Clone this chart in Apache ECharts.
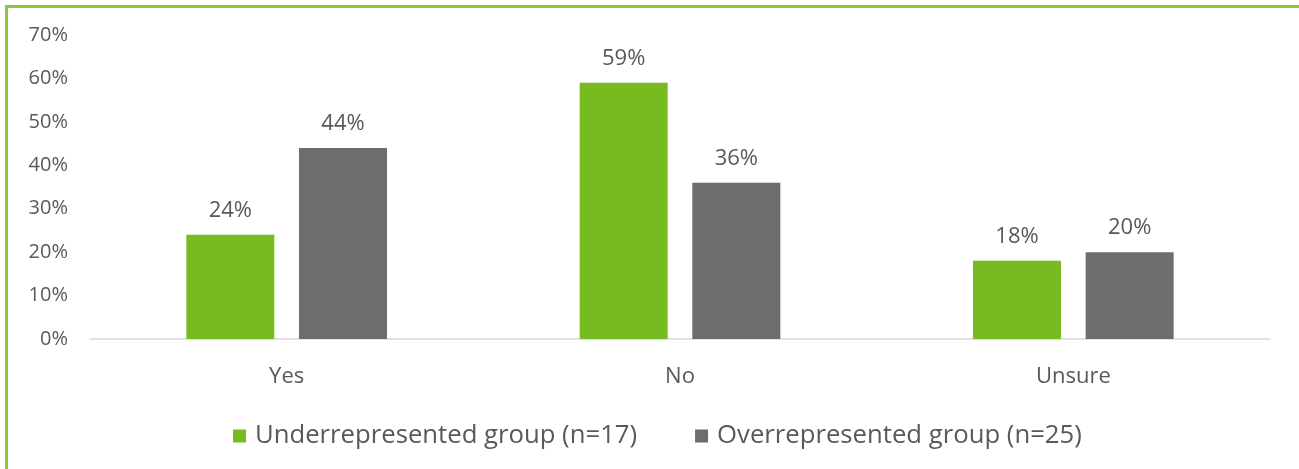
<!DOCTYPE html>
<html>
<head>
<meta charset="utf-8">
<script src="https://cdn.jsdelivr.net/npm/echarts@6/dist/echarts.min.js"></script>
<style>
  html, body { margin: 0; padding: 0; background: #fff; }
  #frame { position: absolute; left: 5px; top: 5px; width: 1294px; height: 464px;
           border-top: 3px solid #8cc63e; border-left: 3px solid #8cc63e; box-sizing: border-box; }
  #chart { position: absolute; left: 0; top: 0; width: 1299px; height: 469px; }
</style>
</head>
<body>
<div id="frame"></div>
<div id="chart"></div>
<script>
// Survey answers by group, in percent
const categories = ['Yes', 'No', 'Unsure'];
const underrepresented = [24, 59, 18];
const overrepresented = [44, 36, 20];
const seriesNames = ['Underrepresented group (n=17)', 'Overrepresented group (n=25)'];
const yTicks = [0, 10, 20, 30, 40, 50, 60, 70];

const FONT = '"Open Sans", sans-serif';
const TEXT = '#595959';

const chart = echarts.init(document.getElementById('chart'), null, { renderer: 'canvas' });

const label = {
  show: true, position: 'top', distance: 13,
  formatter: p => p.value + '%',
  color: TEXT, fontFamily: FONT, fontSize: 22
};

chart.setOption({
  animation: false,
  grid: { left: 90, right: 29, top: 35, bottom: 130, containLabel: false },
  legend: {
    data: seriesNames,
    top: 418, left: 228,
    itemWidth: 13, itemHeight: 13, itemGap: 58,
    icon: 'rect',
    textStyle: { color: TEXT, fontFamily: FONT, fontSize: 25.7, padding: [0, 0, 0, 4] }
  },
  xAxis: {
    type: 'category', data: categories,
    axisLine: { lineStyle: { color: '#d9d9d9', width: 1.5 } },
    axisTick: { show: false },
    axisLabel: { color: TEXT, fontFamily: FONT, fontSize: 22, margin: 27 }
  },
  yAxis: {
    type: 'value', min: yTicks[0], max: yTicks[yTicks.length - 1], interval: 10,
    splitLine: { show: false },
    axisLine: { show: false }, axisTick: { show: false },
    axisLabel: { color: TEXT, fontFamily: FONT, fontSize: 20, margin: 22, formatter: v => v + '%' }
  },
  series: [
    { name: seriesNames[0], type: 'bar', data: underrepresented, barWidth: 88, barGap: '28%',
      itemStyle: { color: '#76bc21' }, label },
    { name: seriesNames[1], type: 'bar', data: overrepresented, barWidth: 88, barGap: '28%',
      itemStyle: { color: '#6d6d6d' }, label }
  ]
});
</script>
</body>
</html>
